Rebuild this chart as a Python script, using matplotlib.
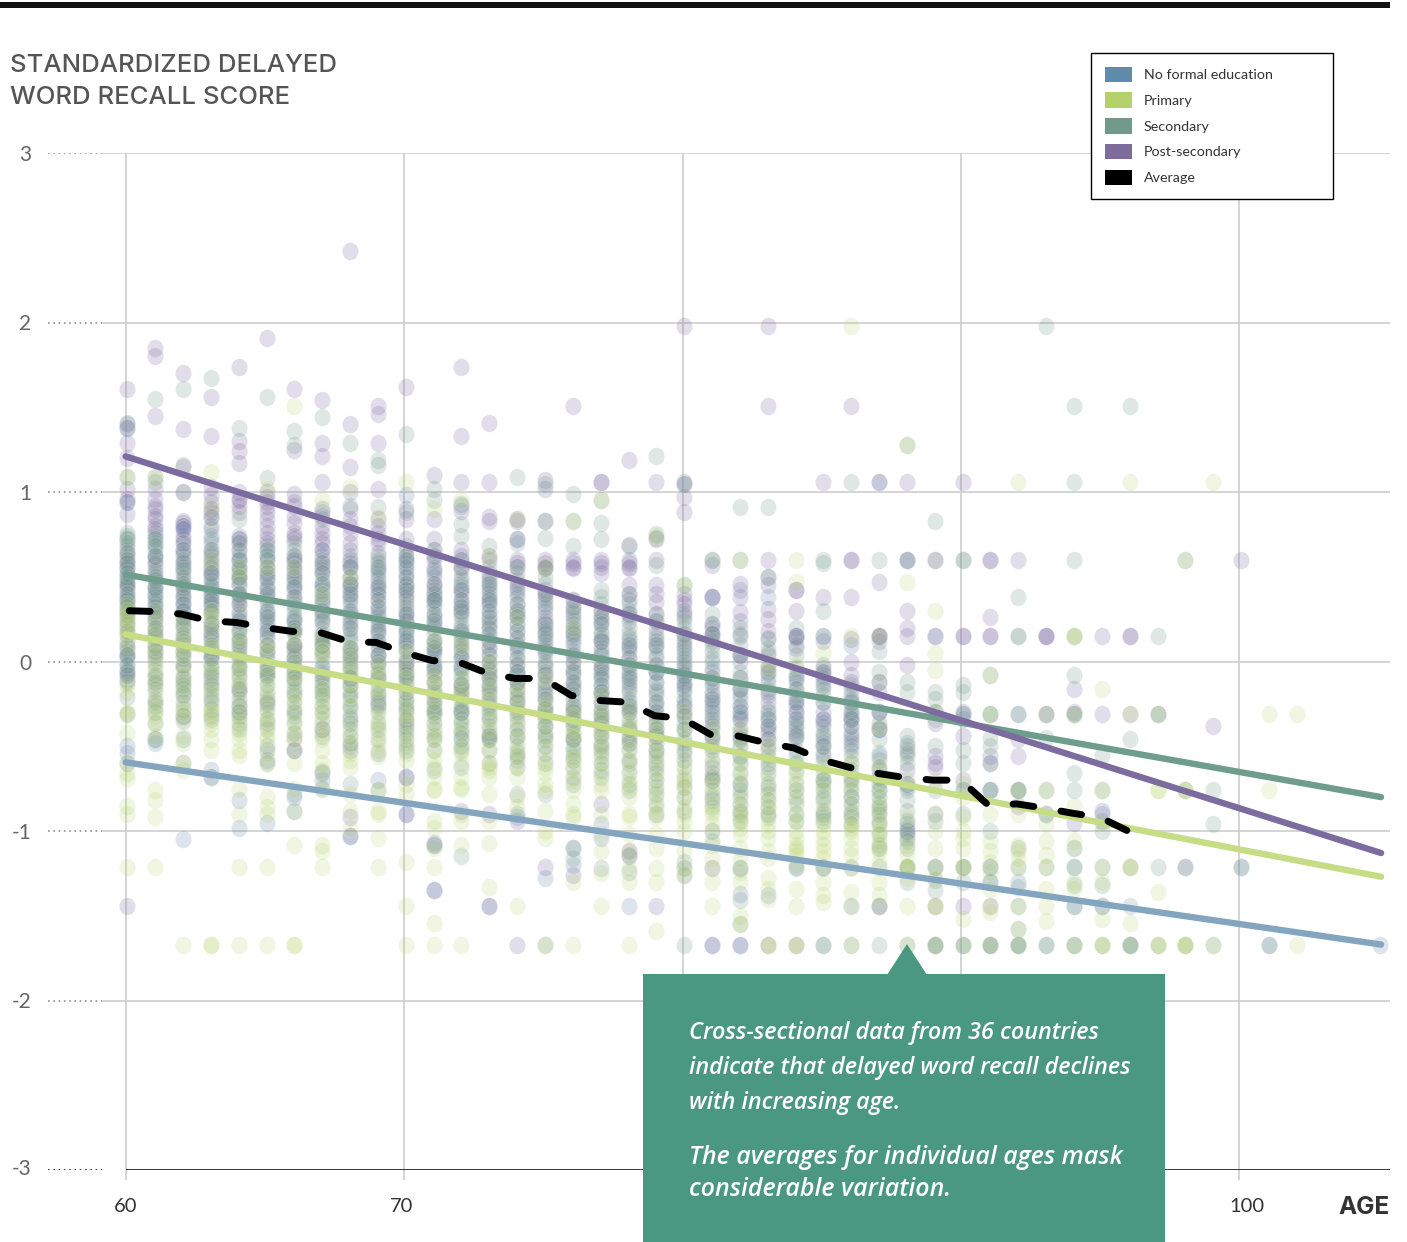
"""Delayed word recall score by age and education level (cross-sectional, 36 countries)."""
import matplotlib
matplotlib.use("Agg")
import matplotlib.pyplot as plt
from matplotlib.patches import Patch, Polygon, Rectangle
from matplotlib.path import Path
from matplotlib.transforms import ScaledTranslation, Affine2D

W, H = 1407, 1242
plt.rcParams["font.family"] = ["Lato", "DejaVu Sans"]
plt.rcParams["lines.scale_dashes"] = False

# scores, one list per age
post_secondary = {
    60: [1.61, 1.40, 1.38, 1.29, 1.20, 1.02, .96, .94, .87, .66, .60, .55, .47, .42, .36, .28, .21, .12, .03, -.06, -.11, -1.44],
    61: [1.85, 1.80, 1.45, 1.02, .96, .90, .84, .80, .76, .62, .57, .52, .44, .39, .34, .25, .15, .06],
    62: [1.70, 1.37, 1.15, 1.00, .83, .82, .80, .74, .70, .62, .55, .48, .42, .35, .30, .21, .10, -.02, -.32],
    63: [1.56, 1.33, 1.03, .98, .94, .88, .85, .66, .60, .55, .50, .44, .38, .29, .22, .15, .03, -.10],
    64: [1.74, 1.30, 1.24, 1.17, 1.00, .95, .92, .74, .70, .66, .56, .50, .45, .38, .30, .24, .10, -.17, -.30],
    65: [1.91, 1.00, .97, .92, .88, .80, .72, .70, .56, .49, .44, .38, .30, .22, .15, .06, -.05, -.25],
    66: [1.61, 1.25, .99, .92, .86, .76, .72, .60, .58, .50, .46, .38, .25, .18, .10, .03, -.10, -.45, -.52],
    67: [1.54, 1.29, 1.21, 1.06, .86, .80, .72, .70, .62, .58, .52, .42, .35, .24, .15, .05, -.08, -.40],
    68: [2.42, 1.40, 1.15, 1.00, .90, .84, .76, .70, .60, .56, .50, .44, .36, .28, .20, .08, -.02, -.10, -.52, -.92, -1.03],
    69: [1.51, 1.46, 1.29, 1.02, .84, .76, .70, .64, .55, .48, .40, .32, .26, .18, .10, .00, -.10, -.25],
    70: [1.62, .90, .84, .66, .62, .55, .50, .44, .36, .30, .24, .16, .08, .00, -.08, -.18, -.35, -.68, -.90],
    71: [1.10, .84, .66, .60, .55, .50, .44, .40, .34, .28, .20, .12, .04, -.02, -.12, -.22, -.30, -1.07, -1.35],
    72: [1.74, 1.33, 1.06, .89, .66, .60, .54, .44, .40, .34, .28, .20, .12, .06, -.04, -.13, -.20, -.30, -.88],
    73: [1.41, 1.06, .85, .83, .60, .52, .46, .40, .34, .26, .20, .12, .04, -.05, -.14, -.25, -.44, -.90, -1.44],
    74: [.84, .83, .72, .60, .56, .48, .42, .34, .26, .18, .10, .02, -.06, -.16, -.30, -.94, -1.67],
    75: [1.07, 1.02, .83, .60, .58, .55, .42, .38, .30, .22, .16, .06, -.03, -.14, -.22, -.32, -1.21],
    76: [1.51, .60, .58, .55, .36, .28, .20, .12, .04, -.06, -.16, -.26, -.34, -.45, -1.26],
    77: [1.06, 1.06, .60, .58, .52, .30, .24, .16, .08, -.02, -.06, -.14, -.24, -.36, -.50, -.84],
    78: [1.19, .69, .60, .58, .55, .45, .36, .28, .14, .06, .02, -.06, -.16, -.30, -.46, -1.12, -1.15],
    79: [1.06, .72, .60, .45, .35, .28, .20, .14, .02, -.06, -.18, -.30, -.44, -1.44],
    80: [1.98, 1.06, .97, .88, .40, .36, .34, .26, .16, .08, .00, -.08, -.16, -.30],
    81: [.57, .38, .38, .22, .20, .14, -.06, -.18, -.22, -.32, -.46, -.62, -.68, -1.22, -1.67],
    82: [.46, .38, .29, .15, .00, -.10, -.22, -.30, -.40, -1.67],
    83: [1.98, 1.51, .60, .50, .45, .31, .25, .14, .05, -.07, -.24, -.34, -.42, -.52, -1.67],
    84: [.42, .42, .30, .15, .15, .15, -.10, -.22, -.30, -.34, -.44, -1.67],
    85: [1.06, .38, .12, -.04, -.08, -.30, -.34, -.44, -.56],
    86: [1.51, .60, .60, .38, .13, .00, -.08, -.16, -.32, -.38, -.48],
    87: [1.06, .47, .15, .15, .15, -.12, -.18, -.30, -.40, -.64, -1.44],
    88: [1.06, .60, .30, .20, .15, -.02, -.52, -.64, -.72, -1.00],
    89: [.60, .15, -.36, -.56, -.60, -.62, -1.44],
    90: [1.06, .15, .15, -.30, -.44, -.70, -1.44],
    91: [.60, .60, .26, .15, .15, -.56, -.60, -1.44],
    92: [.60, -.46, -.56, -.85],
    93: [.15, .15, .15, -.31],
    94: [-.16, -.30, -.95],
    95: [.15, -.31, -.88, -.94],
    96: [.15, .15, -.31],
    98: [-1.21],
    99: [-.38],
    100: [.60],
}
secondary = {
    60: [1.41, 1.09, .76, .72, .68, .62, .55, .50, .44, .38, .34, .30, .24, .18, .09, .02, -.05, -.12, -.21, -.31],
    61: [1.55, 1.09, 1.06, .74, .70, .66, .50, .44, .38, .30, .24, .18, .10, .02, -.05, -.12, -.22, -.36, -.46],
    62: [1.61, 1.16, 1.00, .58, .52, .44, .38, .30, .22, .14, .06, -.02, -.10, -.19, -.28, -.35, -.60],
    63: [1.67, .85, .78, .72, .66, .56, .48, .42, .34, .28, .20, .12, .06, -.04, -.12, -.20, -.28, -.34, -.68],
    64: [1.38, .84, .70, .60, .56, .50, .36, .28, .20, .14, .06, -.02, -.10, -.18, -.26, -.36],
    65: [1.56, 1.08, .68, .62, .56, .44, .36, .30, .24, .14, .06, -.04, -.10, -.18, -.34, -.40, -.52, -.60],
    66: [1.36, 1.28, .70, .66, .48, .36, .30, .26, .18, .10, .02, -.04, -.12, -.20, -.30, -.36, -.78],
    67: [1.44, .88, .84, .60, .48, .38, .30, .24, .16, .10, .02, -.06, -.14, -.22, -.30, -.40, -.65, -.75],
    68: [1.29, .92, .50, .42, .34, .26, .20, .12, .04, -.04, -.10, -.18, -.28, -.36, -.44, -.72],
    69: [1.19, 1.16, .91, .62, .56, .50, .40, .32, .24, .16, .08, .00, -.06, -.14, -.22, -.36, -.76],
    70: [1.34, .88, .68, .62, .56, .46, .38, .32, .24, .18, .10, .02, -.06, -.14, -.22, -.30, -.38, -.46, -.52],
    71: [1.02, .95, .66, .46, .38, .32, .26, .16, .08, .00, -.08, -.16, -.24, -.30, -.40, -.46, -.64, -1.08],
    72: [.93, .81, .74, .60, .48, .36, .30, .22, .14, .08, -.02, -.10, -.18, -.30, -.36, -.45, -.50, -.62, -1.15],
    73: [.68, .50, .42, .36, .26, .20, .12, .04, -.04, -.10, -.18, -.26, -.34, -.42, -.46],
    74: [1.09, .70, .52, .38, .30, .22, .14, .06, -.02, -.08, -.16, -.28, -.40, -.54, -.58, -.62, -.78, -.90],
    75: [1.05, .83, .73, .55, .46, .36, .24, .18, .10, .04, -.02, -.12, -.26, -.34, -.42, -.50, -.78, -1.67],
    76: [.99, .83, .68, .32, .26, .18, .10, .00, -.08, -.16, -.26, -.34, -.42, -.52, -.58, -.72, -1.10, -1.16],
    77: [.95, .82, .72, .42, .34, .26, .18, .12, .04, -.04, -.10, -.18, -.24, -.32, -.40, -.48, -.56, -.64, -1.22],
    78: [.68, .40, .30, .20, .12, .02, -.04, -.10, -.18, -.26, -.34, -.40, -.48, -.60, -.76, -1.14, -1.24],
    79: [1.21, .75, .73, .57, .28, .16, .08, -.02, -.12, -.20, -.30, -.36, -.44, -.52, -.62, -.74, -.84],
    80: [1.05, .45, .28, .20, .14, .06, -.02, -.10, -.18, -.26, -.36, -.46, -.58, -.74, -.88, -1.18, -1.22, -1.67],
    81: [.60, .60, .28, .16, .10, .02, -.10, -.20, -.30, -.40, -.52, -.70, -.80, -1.06],
    82: [.91, .60, .20, .10, -.06, -.16, -.26, -.42, -.56, -.72, -.76, -.84, -.88, -.94, -1.22, -1.22, -1.41, -1.55],
    83: [.91, .50, .13, .08, -.02, -.12, -.34, -.50, -.62, -.72, -.78, -.86, -.92],
    84: [.20, .10, -.04, -.12, -.20, -.38, -.46, -.60, -.76, -.80, -.90, -1.21],
    85: [.60, .58, .30, .15, -.02, -.12, -.20, -.38, -.46, -.54, -.70, -.76, -.82, -.88, -.94, -1.21, -1.67, -1.67],
    86: [1.06, -.20, -.26, -.34, -.46, -.60, -.68, -.76, -.84, -.90, -1.21, -1.67],
    87: [.60, .06, -.06, -.12, -.40, -.58, -.68, -.76, -.84, -.90, -.96, -1.10, -1.21, -1.67],
    88: [1.28, .60, -.12, -.18, -.44, -.50, -.56, -.76, -.98, -1.04, -1.10, -1.21, -1.30, -1.67],
    89: [.83, .60, -.18, -.22, -.30, -.34, -.50, -.76, -.94, -1.21, -1.29, -1.35, -1.67, -1.67],
    90: [.60, .60, -.14, -.18, -.31, -.52, -.60, -.76, -.90, -1.21, -1.30, -1.67],
    91: [-.08, -.31, -.31, -.45, -.50, -.60, -.76, -.76, -1.00, -1.21, -1.30, -1.67, -1.67],
    92: [.38, .15, .15, -.31, -.76, -.76, -1.10, -1.21, -1.33, -1.44, -1.58, -1.67, -1.67],
    93: [1.98, -.45, -.76, -.90, -1.21, -1.67, -1.67],
    94: [1.51, 1.06, .60, .15, -.08, -.31, -.66, -.76, -1.21, -1.21, -1.32, -1.44, -1.67, -1.67],
    95: [-.55, -.76, -1.00, -1.21, -1.32, -1.44, -1.67],
    96: [1.51, -.46, -1.21, -1.44, -1.67, -1.67],
    97: [.15, -.31, -1.21, -1.67],
    98: [.60, -.76, -1.21, -1.67],
    99: [-.76, -.96, -1.67],
    100: [-1.21],
    101: [-1.67],
}
primary = {
    60: [1.09, .28, .24, .20, .15, .10, -.18, -.30, -.31, -.42, -.60, -.66, -.69, -.85, -.90, -1.21],
    61: [1.09, .30, .22, .12, .04, -.08, -.18, -.28, -.36, -.44, -.76, -.82, -.92, -1.21],
    62: [.24, .16, .08, -.02, -.14, -.26, -.34, -.48, -.60, -.64, -1.67],
    63: [1.12, .92, .60, .30, .20, .10, -.02, -.14, -.30, -.31, -.40, -.46, -.52, -1.67, -1.67],
    64: [.55, .50, .10, .02, -.06, -.16, -.30, -.38, -.46, -.52, -.55, -.75, -.90, -1.21, -1.67],
    65: [1.02, .56, .06, -.02, -.14, -.20, -.34, -.46, -.54, -.60, -.80, -.86, -.90, -1.21, -1.67],
    66: [1.51, .56, .18, .00, -.08, -.24, -.36, -.46, -.52, -.60, -.75, -.88, -1.08, -1.67, -1.67],
    67: [.95, .40, .12, .04, -.10, -.20, -.30, -.42, -.52, -.60, -.64, -.74, -1.08, -1.12, -1.21],
    68: [1.03, .50, .08, -.04, -.14, -.26, -.44, -.54, -.58, -.62, -.78, -.88, -.98],
    69: [.85, -.02, -.10, -.20, -.34, -.42, -.52, -.56, -.76, -.88, -.90, -1.04, -1.21],
    70: [1.06, .06, -.04, -.16, -.28, -.36, -.48, -.54, -.72, -.78, -1.18, -1.44, -1.67],
    71: [.90, .12, -.08, -.18, -.30, -.42, -.52, -.58, -.62, -.75, -.76, -.94, -.98, -1.10, -1.21, -1.54, -1.67],
    72: [.95, .10, -.10, -.20, -.36, -.50, -.60, -.74, -.75, -.90, -.94, -1.08, -1.67],
    73: [.62, .00, -.10, -.22, -.34, -.46, -.60, -.64, -.68, -.78, -.94, -1.07, -1.33],
    74: [.84, .26, -.14, -.26, -.34, -.46, -.56, -.80, -.86, -1.44],
    75: [.56, -.10, -.22, -.32, -.44, -.58, -.62, -.76, -.88, -1.00, -1.04, -1.67],
    76: [.83, .20, -.28, -.38, -.46, -.58, -.70, -.84, -.90, -.92, -1.30, -1.67],
    77: [.95, -.20, -.34, -.44, -.54, -.66, -.76, -.90, -1.02, -1.12, -1.25, -1.44],
    78: [-.28, -.40, -.52, -.64, -.74, -.92, -.90, -1.02, -1.12, -1.22, -1.30, -1.67],
    79: [.74, -.36, -.48, -.58, -.70, -.80, -.90, -.92, -1.02, -1.10, -1.22, -1.30, -1.59],
    80: [.45, -.30, -.50, -.66, -.68, -.74, -.90, -.94, -1.00, -1.12, -1.22, -1.26],
    81: [-.40, -.52, -.72, -.78, -.84, -.90, -1.00, -1.08, -1.16, -1.22, -1.30, -1.44],
    82: [.60, -.40, -.60, -.70, -.84, -.88, -.94, -1.02, -1.10, -1.16, -1.24, -1.30, -1.50, -1.55],
    83: [-.04, -.50, -.68, -.82, -.90, -.96, -1.04, -1.16, -1.28, -1.34, -1.40, -1.67, -1.67],
    84: [.60, .47, -.02, -.60, -.70, -.76, -.90, -1.00, -1.08, -1.12, -1.14, -1.20, -1.34, -1.44, -1.67, -1.67],
    85: [.05, -.62, -.76, -.90, -.96, -1.04, -1.12, -1.21, -1.30, -1.38, -1.42],
    86: [1.98, .15, -.60, -.76, -.92, -.98, -1.04, -1.10, -1.22, -1.36, -1.44, -1.67],
    87: [.15, -.38, -.62, -.80, -.90, -1.00, -1.06, -1.12, -1.18, -1.30, -1.38, -1.44],
    88: [1.28, .47, -.70, -.92, -1.08, -1.14, -1.21, -1.21, -1.21, -1.28, -1.44, -1.67],
    89: [.30, .05, -.05, -.30, -.70, -.90, -1.00, -1.10, -1.21, -1.28, -1.44, -1.44, -1.67],
    90: [-.72, -.80, -.92, -1.00, -1.04, -1.10, -1.21, -1.21, -1.52, -1.67],
    91: [-.08, -.31, -.90, -1.06, -1.12, -1.18, -1.24, -1.34, -1.44, -1.48, -1.67],
    92: [1.06, -.76, -.90, -1.08, -1.12, -1.16, -1.21, -1.44, -1.58, -1.67],
    93: [-.31, -.76, -.96, -1.06, -1.14, -1.21, -1.34, -1.44, -1.53],
    94: [.15, .15, -.31, -.85, -1.06, -1.10, -1.30, -1.34, -1.67],
    95: [-.16, -.76, -.95, -1.21, -1.30, -1.52, -1.67, -1.67],
    96: [1.06, -.31, -1.21, -1.21, -1.54, -1.67],
    97: [-.31, -.76, -.76, -1.36, -1.67, -1.67],
    98: [.60, -.76, -.76, -1.67, -1.67, -1.67],
    99: [1.06, -1.67],
    101: [-.76, -.31],
    102: [-.31, -1.67],
}
no_formal = {
    60: [1.38, .94, .52, .36, .08, -.06, -.50, -.54, -.60],
    61: [.68, .44, .34, .10, -.10, -.46, -.48],
    62: [.80, .30, .06, -.14, -.46, -1.05],
    63: [.74, .32, .02, -.22, -.64, -.68],
    64: [.50, .12, -.30, -.82, -.98],
    65: [.62, .20, -.06, -.50, -.58, -.95],
    66: [.60, .24, .02, -.52, -.80, -.88],
    67: [.44, .14, -.12, -.66, -.70],
    68: [.46, .02, -.14, -.48, -1.03],
    69: [.42, .12, -.20, -.54, -.70],
    70: [.98, .52, .18, -.08, -.24, -.68, -.90],
    71: [.40, .06, -.26, -1.08, -1.35],
    72: [.92, .36, -.04, -.30, -.40],
    73: [.30, -.06, -.46, -1.44],
    74: [.72, .22, -.12, -.44, -.92],
    75: [.16, -.20, -.44, -1.28],
    76: [.16, -.14, -.28, -1.10, -1.20],
    77: [.12, -.10, -.34, -.96, -1.04],
    78: [-.02, -.24, -.48, -1.44],
    79: [-.06, -.34, -.52, -.90],
    80: [1.05, -.14, -.32, -.48, -1.26],
    81: [.38, .00, -.22, -.36, -.82, -1.00, -1.67],
    82: [.42, -.30, -.34, -.56, -1.37, -1.67],
    83: [.38, -.10, -.32, -1.38],
    84: [.14, -.30, -.44, -1.22],
    85: [.15, -.34, -.90, -1.22],
    86: [.10, -.34, -.42, -.70, -.92, -1.44],
    87: [1.06, .12, -.40, -.68, -.76, -1.44],
    88: [.60, -.72, -.96, -1.00, -1.21],
    89: [.15, -.30, -.90, -1.21, -1.67],
    90: [-.31, -.34, -.76, -1.21, -1.67],
    91: [-.76, -1.21, -1.30, -1.67],
    92: [-.31, -.76, -1.30, -1.67],
    93: [-.31, -.90],
    94: [-.31, -1.10, -1.44],
    95: [-.90, -1.44],
    96: [-1.67],
    97: [-.31],
    100: [-1.21],
    101: [-1.67],
    105: [-1.67],
}

# second pass over the dense middle of the columns
secondary_dense = {
    60: [.74, .70, .64, .60, .58, .52, .48, .46, .40, .36, .32, .26, .22, .06, .04, -.02, -.08],
    61: [.72, .68, .62, .58, .54, .48, .42, .36, .32, .26, .20, .14, .06, .00, -.08, -.16, -.24, -.30],
    62: [.70, .64, .60, .54, .50, .46, .40, .34, .26, .20, .12, .04, -.04, -.12, -.16, -.24, -.32],
    63: [.64, .58, .52, .46, .40, .36, .30, .24, .16, .10, .02, -.02, -.08, -.16, -.24, -.32],
    64: [.66, .62, .54, .46, .40, .34, .26, .18, .12, .04, -.04, -.08, -.14, -.22, -.32, -.40],
    65: [.66, .60, .52, .48, .40, .34, .26, .18, .10, .02, -.02, -.08, -.14, -.22, -.28, -.36],
    66: [.62, .56, .50, .44, .38, .32, .24, .16, .08, .00, -.06, -.10, -.16, -.24, -.32, -.42],
    67: [.58, .52, .46, .40, .34, .28, .20, .12, .06, -.02, -.10, -.16, -.20, -.26, -.34, -.44],
    68: [.62, .56, .46, .38, .30, .22, .14, .08, .00, -.06, -.14, -.20, -.26, -.32, -.40, -.50],
    69: [.60, .54, .46, .36, .28, .20, .12, .04, -.02, -.10, -.18, -.26, -.30, -.40, -.46],
    70: [.60, .50, .42, .34, .28, .20, .14, .06, -.02, -.10, -.18, -.26, -.34, -.42, -.50],
    71: [.62, .54, .42, .36, .28, .22, .12, .06, -.04, -.12, -.20, -.28, -.36, -.44, -.52],
    72: [.56, .50, .42, .32, .26, .18, .10, .04, -.06, -.14, -.22, -.28, -.34, -.42, -.52],
    73: [.56, .46, .38, .30, .24, .16, .08, .00, -.08, -.14, -.22, -.30, -.38, -.44, -.52, -.60],
    74: [.56, .46, .34, .26, .18, .10, .02, -.06, -.12, -.20, -.24, -.32, -.44, -.50, -.56],
    75: [.50, .40, .32, .20, .14, .06, .00, -.06, -.16, -.22, -.30, -.38, -.46, -.54, -.60],
    76: [.36, .30, .22, .14, .04, -.04, -.12, -.20, -.30, -.38, -.46, -.50, -.56, -.62, -.68],
    77: [.38, .30, .22, .14, .06, .00, -.08, -.14, -.20, -.28, -.36, -.44, -.52, -.60, -.68],
    78: [.34, .26, .16, .08, -.02, -.08, -.14, -.22, -.30, -.38, -.44, -.52, -.58, -.66, -.72],
    79: [.24, .12, .04, -.06, -.16, -.24, -.32, -.40, -.48, -.56, -.66, -.70, -.78],
    80: [.24, .16, .10, .02, -.06, -.14, -.22, -.32, -.40, -.52, -.62, -.70, -.80],
    81: [.22, .12, .06, -.04, -.14, -.24, -.34, -.44, -.58, -.66, -.76, -.86],
    82: [.16, .04, -.10, -.20, -.32, -.46, -.50, -.60, -.66, -.80, -.90],
    83: [.04, -.06, -.16, -.28, -.38, -.46, -.56, -.66, -.74, -.82, -.90],
    84: [.04, -.08, -.16, -.24, -.34, -.42, -.52, -.64, -.72, -.84, -.94],
    85: [-.06, -.16, -.24, -.42, -.50, -.58, -.66, -.72, -.80, -.92],
    86: [-.14, -.22, -.30, -.38, -.52, -.56, -.64, -.72, -.80, -.88, -.96],
    87: [-.30, -.46, -.54, -.62, -.72, -.80, -.88, -.94, -1.02, -1.08],
    88: [-.48, -.54, -.60, -.74, -.82, -.88, -.94, -1.02, -1.06],
}
no_formal_dense = {
    60: [.72, .56, .46, .40, .30, .04, -.02, -.08],
    61: [.72, .62, .50, .40, .28, .16, .04, -.14, -.26],
    62: [.78, .66, .56, .46, .34, .24, .16, .02, -.10, -.20],
    63: [.70, .52, .44, .36, .22, .14, .04, -.06, -.14],
    64: [.72, .60, .48, .40, .24, .08, -.04, -.16, -.26],
    65: [.66, .50, .42, .28, .18, .04, -.08, -.24],
    66: [.52, .44, .34, .20, .10, -.06, -.18, -.28],
    67: [.66, .54, .36, .26, .10, -.04, -.18],
    68: [.56, .40, .30, .16, .06, -.10, -.22, -.34],
    69: [.52, .44, .30, .18, .04, -.08, -.24],
    70: [.60, .42, .26, .12, .00, -.12, -.28, -.40],
    71: [.52, .36, .24, .10, -.04, -.18, -.32],
    72: [.46, .32, .18, .02, -.14, -.26, -.46],
    73: [.44, .34, .16, .00, -.16, -.32],
    74: [.40, .28, .08, -.06, -.22, -.36],
    75: [.34, .22, .08, -.08, -.28, -.38],
    76: [.24, .06, -.06, -.22, -.36, -.46],
    77: [.22, .04, -.18, -.30, -.42],
    78: [.28, .10, -.10, -.28, -.40],
    79: [.10, -.12, -.26, -.42, -.60],
    80: [.04, -.08, -.24, -.40, -.54],
    81: [.16, -.12, -.28, -.44, -.70],
    82: [.04, -.16, -.26, -.44, -.72],
    83: [-.18, -.30, -.40, -.60],
    84: [-.10, -.24, -.36, -.56],
    85: [-.10, -.24, -.48, -.70],
    86: [-.24, -.30, -.50, -.80],
    87: [-.30, -.36, -.56, -.86],
}
primary_dense = {
    60: [.34, .30, .26, .18, -.14],
    61: [.16, .08, -.02, -.12, -.24, -.32],
    62: [.12, .04, -.08, -.18, -.30, -.44],
    63: [.26, .08, -.06, -.18, -.26, -.36],
    64: [.14, -.02, -.12, -.24, -.34, -.42],
    65: [.10, -.08, -.24, -.30, -.38, -.44],
    66: [.10, -.12, -.20, -.30, -.42],
    67: [.06, -.16, -.26, -.36, -.46],
    68: [.02, -.08, -.20, -.36, -.48],
    69: [-.06, -.16, -.28, -.38, -.48],
    70: [-.10, -.22, -.32, -.44, -.58],
    71: [-.12, -.24, -.36, -.46, -.68],
    72: [-.16, -.26, -.42, -.54, -.68],
    73: [-.16, -.28, -.40, -.52, -.62],
    74: [-.20, -.30, -.40, -.52, -.62, -.68],
    75: [-.28, -.38, -.50, -.66, -.72],
    76: [-.32, -.42, -.54, -.64, -.76],
    77: [-.30, -.40, -.50, -.60, -.72],
    78: [-.36, -.46, -.58, -.70, -.80],
    79: [-.42, -.54, -.64, -.76, -.86],
    80: [-.40, -.58, -.72, -.80, -.86],
    81: [-.46, -.60, -.68, -.88, -.96],
    82: [-.50, -.66, -.78, -.92, -.98],
    83: [-.58, -.76, -.86, -1.00, -1.12],
    84: [-.66, -.82, -.94, -1.04, -1.10],
    85: [-.70, -.84, -1.00, -1.08, -1.16],
    86: [-.70, -.84, -.96, -1.00, -1.14],
    87: [-.72, -.86, -.96, -1.02, -1.10],
}
post_dense = {
    60: [.64, .58, .50, .44, .32, .16],
    61: [.92, .86, .78, .60, .48, .30, .20],
    62: [.78, .72, .66, .58, .44, .38, .26, .14],
    63: [.90, .80, .62, .52, .40, .34, .18, .08],
    64: [.96, .88, .72, .60, .52, .40, .34, .18, .02],
    65: [.94, .84, .76, .60, .52, .40, .26, .10],
    66: [.94, .82, .74, .62, .54, .42, .20, .06],
    67: [.90, .76, .66, .56, .46, .30, .10],
    68: [.80, .66, .58, .46, .40, .24, .04],
    69: [.80, .72, .58, .44, .36, .22, .04],
    70: [.72, .58, .46, .40, .28, .12, -.04],
    71: [.72, .62, .46, .36, .24, .08, -.06],
    72: [.62, .56, .42, .30, .16, .02, -.16],
    73: [.62, .48, .36, .22, .08, -.10, -.20],
    74: [.58, .44, .30, .14, -.02, -.12, -.24],
    75: [.56, .40, .26, .12, -.08, -.18, -.28],
    76: [.56, .32, .16, .00, -.12, -.30],
    77: [.56, .26, .12, -.04, -.18, -.32],
    78: [.56, .40, .24, .10, -.12, -.26],
    79: [.40, .24, .10, -.02, -.24, -.40],
    80: [.30, .12, -.04, -.12, -.26],
    81: [.16, -.10, -.26, -.38, -.50],
    82: [.24, .04, -.16, -.34, -.46],
    83: [.18, -.04, -.20, -.38, -.46],
    84: [.08, -.16, -.26, -.40],
    85: [-.06, -.14, -.36, -.50],
    86: [-.12, -.24, -.34, -.44],
}

# fitted trends, end to end, and the age-by-age mean
trend_ages = [60, 105.09]
trend_post = [1.21, -1.13]
trend_secondary = [.513, -.80]
trend_primary = [.16, -1.27]
trend_none = [-.595, -1.67]

avg_ages = list(range(60, 97))
avg_scores = [.30, .295, .28, .24, .23, .20, .177, .17, .118, .112, .053, .006, -.006, -.07, -.10, -.10,
              -.20, -.23, -.24, -.32, -.336, -.43, -.44, -.48, -.51, -.58, -.625, -.66, -.685, -.70, -.70,
              -.85, -.84, -.865, -.895, -.92, -1.0]

y_ticks = [3, 2, 1, 0, -1, -2, -3]
x_ticks = [60, 70, 80, 90, 100]
legend_labels = ["No formal education", "Primary", "Secondary", "Post-secondary", "Average"]

BLUE, GREEN, TEAL, PURPLE = "#6a86ab", "#b5d26a", "#72998a", "#7a68a0"
GRID = "#cdcdcd"


def fx(px):
    return px / W


def fy(py):
    return 1 - py / H


def flat(*groups):
    xs, ys = [], []
    for group in groups:
        for age, vals in group.items():
            xs += [age] * len(vals)
            ys += vals
    return xs, ys


fig = plt.figure(figsize=(W / 100, H / 100), dpi=100)
# plot area runs from the dotted leaders on the left to the right end of the grid
ax = fig.add_axes([fx(48), fy(1170), fx(1342), (1170 - 153) / H])
ax.set_xlim(57.21, 105.41)
ax.set_ylim(-3, 3)
for s in ax.spines.values():
    s.set_visible(False)

# grid + dotted leaders
LEAD = 59.15
ax.hlines(y_ticks[:-1], LEAD, 105.41, color=GRID, lw=1.2, zorder=1)
ax.vlines(x_ticks, -3.06, 3, color=GRID, lw=1.2, zorder=1, clip_on=False)
ax.hlines(-3, 60, 105.41, color="black", lw=1.1, zorder=1.5)
for yt in y_ticks:
    ax.plot([57.21, LEAD], [yt, yt], color="#333333" if yt == -3 else "#999999", lw=1.3,
            ls=(0, (1.2, 2.6)), zorder=1)

ax.set_yticks(y_ticks)
ax.set_yticklabels([str(v) for v in y_ticks])
ax.set_xticks(x_ticks)
ax.set_xticklabels([str(v) for v in x_ticks])
ax.tick_params(axis="both", length=0, labelsize=15, labelcolor="#666666")
ax.tick_params(axis="y", pad=12)
ax.tick_params(axis="x", pad=20.5, labelcolor="#333333", labelsize=14.5)
for lab, dx in zip(ax.get_xticklabels(), [0, -3, 0, 0, 8]):
    lab.set_transform(lab.get_transform() + ScaledTranslation(dx / 100, 0, fig.dpi_scale_trans))
ax.get_yticklabels()[-1].set_transform(ax.get_yticklabels()[-1].get_transform()
                                       + ScaledTranslation(0, 3 / 100, fig.dpi_scale_trans))

# oval dots: a bit narrower than tall in the original
oval = Path.unit_circle().transformed(Affine2D().scale(.92, 1))
# purple goes down first so the columns stay grey-green like the original
for groups, color, alpha in [((post_secondary, post_dense), PURPLE, .22), ((no_formal, no_formal_dense), BLUE, .22),
                             ((secondary, secondary_dense), TEAL, .22), ((primary, primary_dense), GREEN, .2)]:
    xs, ys = flat(*groups)
    # dots sit about 1.7 px right of the gridlines
    ax.scatter([a + .06 for a in xs], ys, s=160, marker=oval, color=color, alpha=alpha,
               linewidths=.4, edgecolors="white", zorder=2)

for vals, color in [(trend_none, "#84a5bf"), (trend_primary, "#c6dc85"),
                    (trend_secondary, "#6f9d8c"), (trend_post, "#7b6b9e")]:
    ax.plot(trend_ages, vals, color=color, lw=4.6, solid_capstyle="round", zorder=3)
ax.plot(avg_ages, avg_scores, color="black", lw=5, ls=(32.4, (15.1, 19.8)),
        dash_capstyle="round", dash_joinstyle="round", zorder=4)

# legend box
handles = [Patch(facecolor=c, edgecolor="none") for c in ["#5f8bac", GREEN, TEAL, "#7d6c9c", "black"]]
leg = ax.legend(handles, legend_labels, loc="upper left", mode="expand", borderaxespad=0,
                bbox_to_anchor=(fx(1091), fy(200), fx(242), 147 / H), bbox_transform=fig.transFigure,
                fontsize=10.3, labelcolor="#333333", fancybox=False, framealpha=1, edgecolor="black",
                handlelength=1.9, handleheight=1.3, handletextpad=.85, borderpad=.95, labelspacing=.71)
leg.get_frame().set_linewidth(1)
leg.set_zorder(6)

# callout
ax.add_patch(Rectangle((fx(643), fy(1242)), fx(522), 268 / H, transform=fig.transFigure,
                       facecolor="#4a9880", edgecolor="none", clip_on=False, zorder=5))
ax.add_patch(Polygon([(fx(887), fy(975)), (fx(907), fy(944)), (fx(927), fy(975))], transform=fig.transFigure,
                     facecolor="#4a9880", edgecolor="none", clip_on=False, zorder=5))
for py, line, size in [(1033, "Cross-sectional data from 36 countries", 16.85),
                       (1068, "indicate that delayed word recall declines", 16.85),
                       (1103, "with increasing age.", 16.85),
                       (1157, "The averages for individual ages mask", 18),
                       (1189, "considerable variation.", 18)]:
    fig.text(fx(689), fy(py), line, family="Open Sans", style="italic", weight="semibold",
             color="white", fontsize=size, va="center", ha="left")

# top rule, axis titles
fig.add_artist(Rectangle((0, fy(8)), fx(1390), 6 / H, transform=fig.transFigure, facecolor="#111111", edgecolor="none"))
for py, line in [(66, "STANDARDIZED DELAYED"), (98, "WORD RECALL SCORE")]:
    fig.text(fx(10), fy(py), line, family="Inter", weight="medium", color="#555555", fontsize=18.5,
             va="center", ha="left")
fig.text(fx(1390), fy(1208), "AGE", family="Inter", weight="bold", color="#333333", fontsize=17.5,
         va="center", ha="right")

fig.savefig("out.png", dpi=100)
